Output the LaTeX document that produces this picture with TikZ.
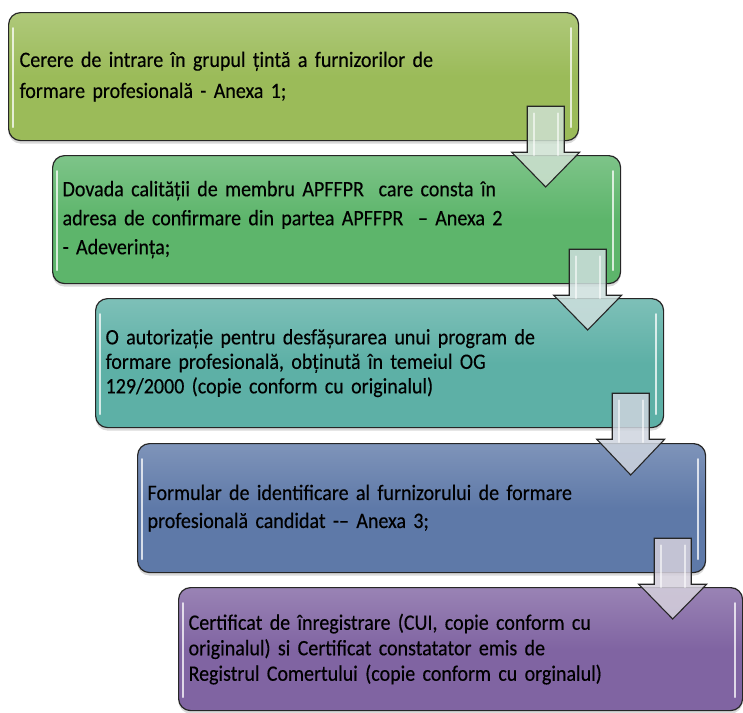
\documentclass[tikz,border=0pt]{standalone}
\usepackage{fontspec}
\setmainfont{Carlito}[FakeStretch=0.91, WordSpace=0.6, FakeBold=0.3]
\usetikzlibrary{calc,shadows}

\definecolor{olivebox}{HTML}{9BBB59}
\definecolor{greenbox}{HTML}{5DB56B}
\definecolor{tealbox}{HTML}{5DB0A6}
\definecolor{bluebox}{HTML}{5E79A8}
\definecolor{purplebox}{HTML}{8064A2}
\definecolor{edgegray}{HTML}{262626}

\tikzset{
  stepbox/.style={draw=edgegray, line width=1.2pt, rounded corners=12pt, anchor=north west,
    minimum width=568pt, minimum height=128pt, inner xsep=10pt, text width=548pt, align=left,
    font=\fontsize{22}{#1}\selectfont,
    drop shadow={shadow xshift=0pt, shadow yshift=-3pt, opacity=.3}},
  stepfill/.style={top color=#1!80!white, bottom color=#1, middle color=#1},
  gloss/.style={white, line width=1.6pt, opacity=.75, line cap=round},
  downarrow/.style={draw=edgegray, line width=1.1pt, line join=miter, fill opacity=.85},
}

\begin{document}
\begin{tikzpicture}[x=1pt,y=-1pt]
\useasboundingbox (0,0) rectangle (743,712);

% the five documents
\node[stepbox=31, stepfill=olivebox, minimum width=570pt] (cerere) at (8,12)
  {Cerere de intrare în grupul țintă a furnizorilor de\\formare profesională - Anexa 1;};
\node[stepbox=29, stepfill=greenbox] (dovada) at (52,155)
  {Dovada calității de membru APFFPR~ care consta în\\adresa de confirmare din partea APFFPR~ – Anexa 2\\- Adeverința;};
\node[stepbox=24.5, stepfill=tealbox, minimum height=129pt] (autorizatie) at (95,298)
  {O autorizație pentru desfășurarea unui program de\\formare profesională, obținută în temeiul OG\\129/2000 (copie conform cu originalul)};
\node[stepbox=28, stepfill=bluebox, minimum height=129pt] (formular) at (137,443)
  {Formular de identificare al furnizorului de formare\\profesională candidat -– Anexa 3;};
\node[stepbox=25.5, stepfill=purplebox, minimum width=564pt, text width=544pt, minimum height=123pt] (certificat) at (178,587)
  {Certificat de înregistrare (CUI, copie conform cu\\originalul) si Certificat constatator emis de\\Registrul Comertului (copie conform cu orginalul)};

% glossy edges
\foreach \b in {cerere,dovada,autorizatie,formular,certificat} {
  \draw[gloss] ($(\b.north west)+(5,16)$) -- ($(\b.south west)+(5,-14)$);
  \draw[gloss] ($(\b.north east)+(-8,16)$) -- ($(\b.south east)+(-8,-14)$);
}

% arrows between the boxes
\foreach \a/\b/\c in {cerere/dovada/greenbox, dovada/autorizatie/tealbox,
    autorizatie/formular/bluebox, formular/certificat/purplebox} {
  \coordinate (m) at ($(\a.south east)+(-33.5,0)$);
  \coordinate (t) at ($(m |- \b.north)+(0,32)$);
  \draw[downarrow, fill=\c!22!white!94!black]
    ($(m)+(-18.5,-35)$) -- ($(m)+(18.5,-35)$) -- ($(m)+(18.5,11)$) -- ($(m)+(34,11)$)
    -- (t) -- ($(m)+(-34,11)$) -- ($(m)+(-18.5,11)$) -- cycle;
  \draw[gloss, opacity=.6] ($(m)+(-12,-28)$) -- ($(m)+(-12,14)$);
  \draw[gloss, opacity=.6] ($(m)+(12,-28)$) -- ($(m)+(12,14)$);
}
\end{tikzpicture}
\end{document}
